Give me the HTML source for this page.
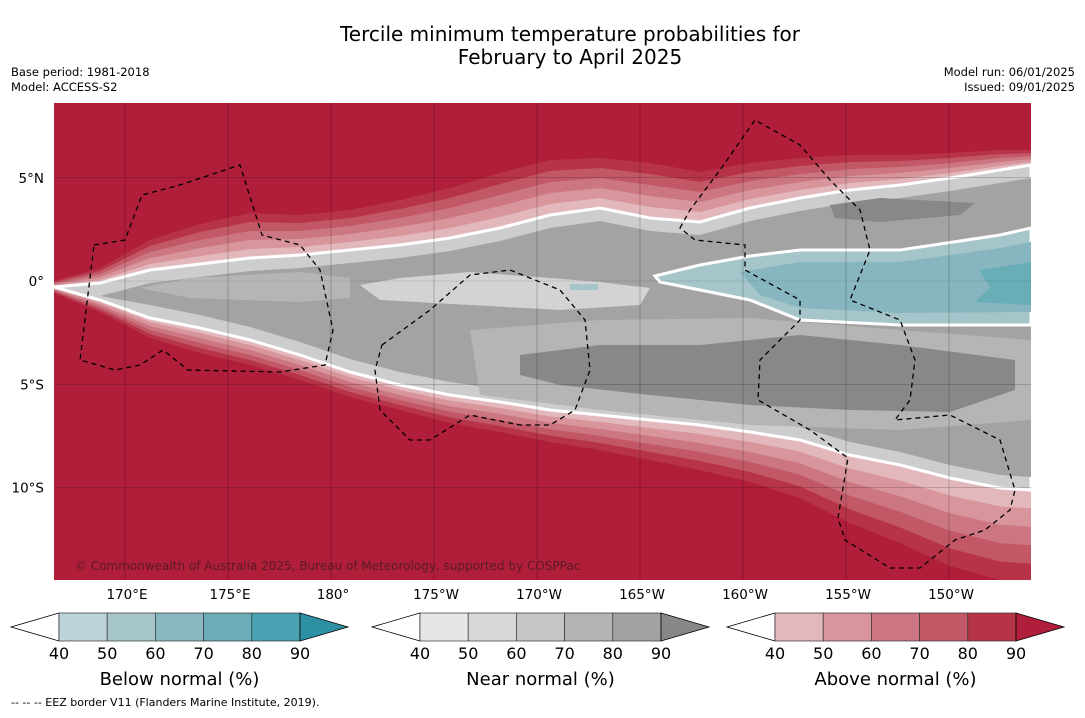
<!DOCTYPE html>
<html><head><meta charset="utf-8"><style>
body{margin:0;background:#fff;font-family:"Liberation Sans",sans-serif;}
svg text{font-family:"DejaVu Sans","Liberation Sans",sans-serif;}
</style></head><body>
<svg id="s" width="1085" height="713" xmlns="http://www.w3.org/2000/svg">
<text x="570" y="41" font-size="20" text-anchor="middle">Tercile minimum temperature probabilities for</text>
<text x="570" y="64" font-size="20" text-anchor="middle">February to April 2025</text>
<text x="11" y="76" font-size="11.5">Base period: 1981-2018</text>
<text x="11" y="91" font-size="11.5">Model: ACCESS-S2</text>
<text x="1075" y="76" font-size="11.5" text-anchor="end">Model run: 06/01/2025</text>
<text x="1075" y="91" font-size="11.5" text-anchor="end">Issued: 09/01/2025</text>
<defs><clipPath id="mc"><rect x="54" y="103" width="977" height="477"/></clipPath></defs>
<g id="map" clip-path="url(#mc)">
<rect x="54" y="103" width="977" height="477" fill="#b01e3a"/>
</g>
<g id="bars"></g>
<text x="11" y="706" font-size="11">--  --  -- EEZ border V11 (Flanders Marine Institute, 2019).</text>
</svg>
<script>
const NS="http://www.w3.org/2000/svg";
const xs=[54,100,150,200,250,300,350,400,450,500,550,600,650,700,750,800,850,900,950,1000,1031];
const whiteUp=[287,283,270,264,258,255,250,245,238,228,215,208,218,222,208,198,190,185,178,170,165];
const whiteLo=[287,300,318,328,340,355,372,385,395,402,410,415,420,425,432,440,455,465,478,488,490];
const upSpread=[6,15,30,40,45,40,40,45,50,55,55,50,55,50,45,40,35,30,25,20,15];
const loSpread=[6,12,20,25,25,25,25,25,28,30,32,35,40,45,50,58,68,78,88,92,92];
const redColors=["#b73448","#c25766","#cb7680","#d8959c","#e2b8bd"];
const levels=[40,50,60,70,80,90];
const lonTicks=["170°E","175°E","180°","175°W","170°W","165°W","160°W","155°W","150°W"];
const latTicks=["5°N","0°","5°S","10°S"];
const latVals=[5,0,-5,-10];
const map=document.getElementById('map');
const lonX=i=>125+i*103;
const latY=v=>281-v*20.65;
function mk(tag,attrs,parent){const e=document.createElementNS(NS,tag);for(const k in attrs)e.setAttribute(k,attrs[k]);(parent||map).appendChild(e);return e;}
function poly(pts){return "M"+pts.map(p=>p[0]+","+p[1]).join(" L")+" Z";}
function band(f,inset){
 const up=xs.map((x,i)=>[x,whiteUp[i]-upSpread[i]*f+inset]);
 const lo=xs.map((x,i)=>[x,Math.max(whiteLo[i]+loSpread[i]*f-inset,whiteUp[i]-upSpread[i]*f+inset)]).reverse();
 return poly(up.concat(lo));
}
redColors.forEach((c,k)=>{const p=mk('path',{d:band(1-k*0.2,0),fill:c});

});
let w=mk('path',{d:band(0,0),fill:"#cdcdcd",stroke:"#fff","stroke-width":3});


let g=mk('path',{d:band(0,13),fill:"#a3a3a3"});


const patches=[
 ["#b5b5b5","M470,330 L600,320 L750,318 L900,330 L1031,340 L1031,420 L900,430 L750,425 L600,410 L480,395 Z","mid-gray-south"],
 ["#888888","M520,355 L600,345 L700,345 L800,335 L900,345 L1015,360 L1015,390 L950,412 L850,410 L750,405 L650,395 L560,385 L520,375 Z","dark-gray-south"],
 ["#888888","M830,205 L880,198 L975,203 L960,215 L880,222 L835,218 Z","dark-gray-north"],
 ["#d3d3d3","M360,285 L400,278 L470,272 L550,278 L600,282 L650,288 L640,305 L560,310 L470,305 L380,300 Z","light-gray-center"],
 ["#b5b5b5","M140,288 L190,278 L300,272 L350,278 L350,298 L300,302 L190,298 Z","light-gray-west"],
 ["#a5c5ca","M655,276 L700,265 L750,256 L800,250 L900,250 L1000,235 L1031,228 L1031,325 L900,325 L800,320 L750,300 L700,290 L660,282 Z","below-normal-50"],
 ["#88b6c0","M740,272 L800,262 L900,262 L1000,248 L1031,242 L1031,312 L900,313 L800,308 L760,295 Z","below-normal-60"],
 ["#69adb6","M980,270 L1031,262 L1031,305 L975,302 L990,288 Z","below-normal-70"],
 ["#a5c5ca","M570,284 L598,284 L598,290 L570,290 Z","below-normal-patch"]];
patches.forEach(p=>{const e=mk('path',{d:p[1],fill:p[0],stroke:p[0].startsWith('#a5c')&&p[2]!=='below-normal-patch'?"#fff":"none","stroke-width":3});

});
lonTicks.forEach((t,i)=>{const l=mk('line',{x1:lonX(i),x2:lonX(i),y1:103,y2:580,stroke:"#000","stroke-opacity":0.35,"stroke-width":0.6});


const tx=mk('text',{x:lonX(i)+2,y:599,"font-size":13.5,"text-anchor":"middle"},document.getElementById('s'));tx.textContent=t;

});
latVals.forEach((v,i)=>{const y=latY(v);const l=mk('line',{x1:54,x2:1031,y1:y,y2:y,stroke:"#000","stroke-opacity":0.35,"stroke-width":0.6,"stroke-dasharray":i==1?"1,1":"none"});


const tx=mk('text',{x:44,y:y+5,"font-size":13.5,"text-anchor":"end"},document.getElementById('s'));tx.textContent=latTicks[i];

});
const eez=["M94,245 L125,240 L142,195 L180,185 L240,165 L262,235 L300,245 L320,270 L333,330 L325,365 L280,372 L188,370 L163,350 L140,365 L115,370 L80,360 Z",
"M382,345 L430,310 L470,275 L510,270 L560,290 L585,320 L590,370 L575,410 L550,425 L520,425 L470,415 L430,440 L410,440 L380,410 L375,370 Z",
"M680,228 L690,210 L720,170 L755,120 L800,145 L830,180 L860,210 L870,250 L850,300 L900,320 L915,360 L910,400 L895,420 L950,415 L1000,440 L1015,490 L1010,510 L985,530 L955,540 L920,568 L890,568 L845,540 L838,518 L848,458 L810,430 L758,400 L760,360 L800,320 L800,300 L745,270 L745,245 L695,240 Z"];
eez.forEach(d=>{const e=mk('path',{d:d,fill:"none",stroke:"#000","stroke-width":1.3,"stroke-dasharray":"5,4"});

});
const cp=mk('text',{x:75,y:570,"font-size":12,fill:"#5a1a24"},document.getElementById('s'));cp.textContent="© Commonwealth of Australia 2025, Bureau of Meteorology, supported by COSPPac";


const barDefs=[[11,["#bcd3da","#a7c6cb","#89b8c2","#6aadb6","#48a2b1"],"#2d90a4","Below normal (%)"],
[372,["#e6e6e6","#d7d7d7","#c5c5c5","#b4b4b4","#a2a2a2"],"#878787","Near normal (%)"],
[727,["#e2b8bd","#d8959c","#cb7680","#c25766","#b73448"],"#af1e3a","Above normal (%)"]];
const bars=document.getElementById('bars');
barDefs.forEach((b,bi)=>{const x0=b[0];const gg=mk('g',{},bars);


const bx=x0+48,bw=48.2,y0=613,y1=641;
mk('path',{d:`M${bx},${y0} L${x0},${(y0+y1)/2} L${bx},${y1} Z`,fill:"#fff",stroke:"#000","stroke-width":0.8},gg);
b[1].forEach((c,i)=>mk('rect',{x:bx+i*bw,y:y0,width:bw,height:y1-y0,fill:c,stroke:"#333","stroke-width":0.7},gg));
const ex=bx+5*bw;
mk('path',{d:`M${ex},${y0} L${ex+48},${(y0+y1)/2} L${ex},${y1} Z`,fill:b[2],stroke:"#000","stroke-width":0.8},gg);
levels.forEach((v,i)=>{const t=mk('text',{x:bx+i*bw,y:659,"font-size":16,"text-anchor":"middle"},gg);t.textContent=v;});
const tt=mk('text',{x:bx+2.5*bw,y:685,"font-size":18,"text-anchor":"middle"},gg);tt.textContent=b[3];
});
</script>
</body></html>
